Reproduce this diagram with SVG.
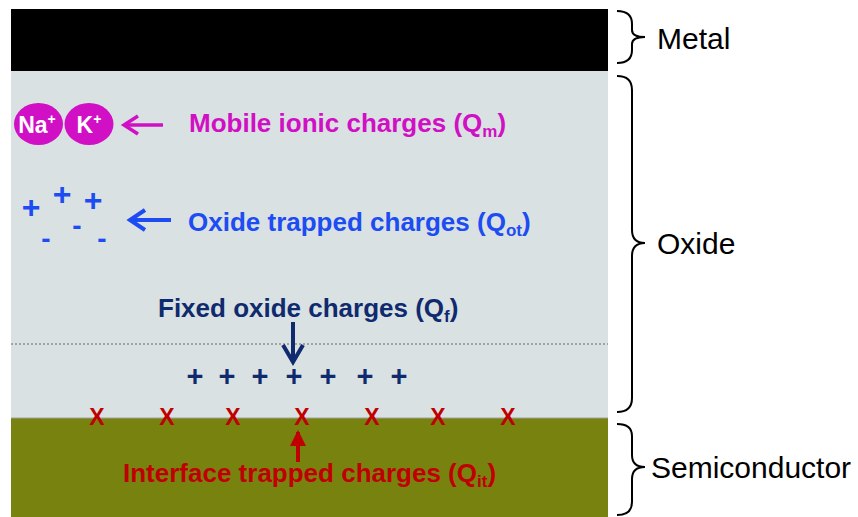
<svg xmlns="http://www.w3.org/2000/svg" width="858" height="517" viewBox="0 0 858 517">
<style>
text{font-family:"Liberation Sans",Arial,sans-serif}
.lbl{font-size:30px;fill:#000}
.b{font-weight:bold;font-size:26px}
.brace{fill:none;stroke:#000;stroke-width:2}
.mag{fill:#d10fc4}
.blu{fill:#1c4cf2}
.nav{fill:#0f2a6e}
.red{fill:#c00000}
</style>
<g id="layers">
<rect x="11" y="9" width="597" height="62" fill="#000"/>
<rect x="11" y="71" width="597" height="347" fill="#d9e1e2"/>
<rect x="11" y="418" width="597" height="99" fill="#78820f"/>
<line x1="11" y1="418" x2="608" y2="418" stroke="#a0a0a0" stroke-width="1"/>
<line x1="11" y1="344" x2="608" y2="344" stroke="#666" stroke-width="1" stroke-dasharray="2,2"/>
</g>
<g id="braces">
<path class="brace" d="M617,11 Q632,11 632,24 L632,30 Q632,37 645,37 Q632,37 632,44 L632,50 Q632,63 617,63"/>
<text class="lbl" x="657" y="49">Metal</text>
<path class="brace" d="M617,76 Q632,76 632,90 L632,230 Q632,243 645,243 Q632,243 632,256 L632,398 Q632,412 617,412"/>
<text class="lbl" x="657" y="254">Oxide</text>
<path class="brace" d="M617,424 Q632,424 632,436 L632,455 Q632,467 645,467 Q632,467 632,479 L632,502 Q632,515 617,515"/>
<text class="lbl" x="651" y="478">Semiconductor</text>
</g>
<g id="mobile">
<ellipse cx="38.5" cy="124" rx="24.5" ry="21" class="mag"/>
<ellipse cx="89" cy="124" rx="24.5" ry="21" class="mag"/>
<text x="37" y="133" text-anchor="middle" font-size="23" font-weight="bold" fill="#fff">Na<tspan font-size="14" dy="-9">+</tspan></text>
<text x="89" y="133" text-anchor="middle" font-size="23" font-weight="bold" fill="#fff">K<tspan font-size="14" dy="-9">+</tspan></text>
<text class="b mag" x="189" y="132">Mobile ionic charges (Q<tspan font-size="17" dy="5">m</tspan><tspan dy="-5">)</tspan></text>
</g>
<g id="oxidetrapped" class="blu">
<text class="b" x="31" y="218" text-anchor="middle" style="font-size:32px">+</text>
<text class="b" x="62" y="205" text-anchor="middle" style="font-size:32px">+</text>
<text class="b" x="93" y="211" text-anchor="middle" style="font-size:32px">+</text>
<text class="b" x="46" y="248" text-anchor="middle" style="font-size:28px">-</text>
<text class="b" x="77" y="235" text-anchor="middle" style="font-size:28px">-</text>
<text class="b" x="102" y="248" text-anchor="middle" style="font-size:28px">-</text>
<text class="b" x="188" y="231">Oxide trapped charges (Q<tspan font-size="17" dy="5">ot</tspan><tspan dy="-5">)</tspan></text>
</g>
<g id="fixed" class="nav">
<text class="b" x="158" y="317">Fixed oxide charges (Q<tspan font-size="17" dy="5">f</tspan><tspan dy="-5">)</tspan></text>
<text class="b" y="386" text-anchor="middle" style="font-size:29px"><tspan x="195">+</tspan><tspan x="227">+</tspan><tspan x="260">+</tspan><tspan x="294">+</tspan><tspan x="328">+</tspan><tspan x="365">+</tspan><tspan x="399">+</tspan></text>
</g>
<g id="interface" class="red">
<text class="b" y="425" text-anchor="middle" style="font-size:23px"><tspan x="97">X</tspan><tspan x="167">X</tspan><tspan x="233">X</tspan><tspan x="302">X</tspan><tspan x="372">X</tspan><tspan x="438">X</tspan><tspan x="508">X</tspan></text>
<text class="b" x="123" y="482">Interface trapped charges (Q<tspan font-size="17" dy="5">it</tspan><tspan dy="-5">)</tspan></text>
</g>
<g id="connectors">
<line x1="163" y1="125" x2="126" y2="125" stroke="#d10fc4" stroke-width="3.5"/>
<path d="M138,116 L124,125 L138,134" fill="none" stroke="#d10fc4" stroke-width="3.5"/>
<line x1="171" y1="220" x2="132" y2="220" stroke="#1c4cf2" stroke-width="4"/>
<path d="M145,210 L130,220 L145,230" fill="none" stroke="#1c4cf2" stroke-width="4"/>
<line x1="293" y1="322" x2="293" y2="358" stroke="#0f2a6e" stroke-width="4"/>
<path d="M283,345 L293,362 L303,345" fill="none" stroke="#0f2a6e" stroke-width="4"/>
<line x1="298" y1="462" x2="298" y2="432" stroke="#c00000" stroke-width="4"/>
<path d="M290,446 L298,430 L306,446 Z" fill="#c00000"/>
</g>
</svg>
